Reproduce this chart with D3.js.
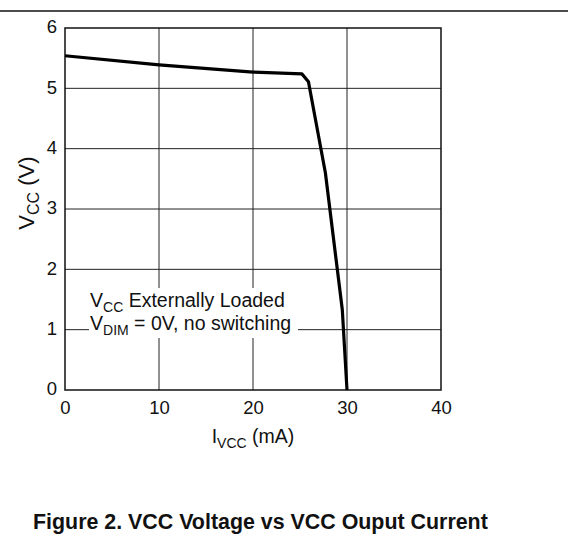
<!DOCTYPE html>
<html>
<head>
<meta charset="utf-8">
<script src="https://cdn.jsdelivr.net/npm/d3@7"></script>
<style>
  body { margin: 0; background: #fff; }
  svg { display: block; font-family: "Liberation Sans", Arial, sans-serif; }
</style>
</head>
<body>
<svg width="568" height="537"></svg>
<script>
"use strict";

// curve: I_VCC (mA) vs V_CC (V)
const currentMA = [0, 10, 20, 25.2, 25.9, 27.7, 29.5, 30.0];
const voltageV = [5.54, 5.39, 5.27, 5.24, 5.11, 3.6, 1.33, 0];
const xTicks = [0, 10, 20, 30, 40];
const yTicks = [0, 1, 2, 3, 4, 5, 6];
const title = "Figure 2. VCC Voltage vs VCC Ouput Current";

const svg = d3.select("svg");
const width = +svg.attr("width");

const plotLeft = 65, plotRight = 441, plotTop = 28, plotBottom = 390;
const labelSize = 19.5, subSize = 14;

const x = d3.scaleLinear().domain([0, 40]).range([plotLeft, plotRight]);
const y = d3.scaleLinear().domain([0, 6]).range([plotBottom, plotTop]);

// rule across the top
svg.append("line")
  .attr("x1", 0).attr("x2", width)
  .attr("y1", 11).attr("y2", 11)
  .attr("stroke", "#111").attr("stroke-width", 1.5);

// grid
const grid = svg.append("g").attr("stroke", "#222").attr("stroke-width", 1);
grid.selectAll(".vx")
  .data(xTicks.slice(1, -1))
  .enter().append("line")
  .attr("x1", d => x(d)).attr("x2", d => x(d))
  .attr("y1", plotTop).attr("y2", plotBottom);
grid.selectAll(".hy")
  .data(yTicks.slice(1, -1))
  .enter().append("line")
  .attr("x1", plotLeft).attr("x2", plotRight)
  .attr("y1", d => y(d)).attr("y2", d => y(d));

// axes (labels only, frame drawn separately)
const xAxis = svg.append("g")
  .attr("transform", `translate(0,${plotBottom})`)
  .call(d3.axisBottom(x).tickValues(xTicks).tickFormat(d3.format("d"))
    .tickSize(0).tickPadding(11));
const yAxis = svg.append("g")
  .attr("transform", `translate(${plotLeft},-1)`)
  .call(d3.axisLeft(y).tickValues(yTicks).tickFormat(d3.format("d"))
    .tickSize(0).tickPadding(8));
[xAxis, yAxis].forEach(g => {
  g.select(".domain").remove();
  g.selectAll("text")
    .attr("font-size", 18.5)
    .attr("font-family", "Liberation Sans, Arial, sans-serif")
    .attr("fill", "#111");
});

// annotation box (white background breaks the grid lines)
const note = svg.append("g");
note.append("rect")
  .attr("x", 89).attr("y", 288)
  .attr("width", 209).attr("height", 50)
  .attr("fill", "#fff");
const t1 = note.append("text")
  .attr("x", 90).attr("y", 307)
  .attr("font-size", labelSize).attr("fill", "#111");
t1.append("tspan").text("V");
t1.append("tspan").attr("dy", 5).attr("font-size", subSize).text("CC");
t1.append("tspan").attr("dy", -5).text(" Externally Loaded");
const t2 = note.append("text")
  .attr("x", 90).attr("y", 330)
  .attr("font-size", labelSize).attr("fill", "#111");
t2.append("tspan").text("V");
t2.append("tspan").attr("dy", 5).attr("font-size", subSize).text("DIM");
t2.append("tspan").attr("dy", -5).text(" = 0V, no switching");

// frame
svg.append("rect")
  .attr("x", plotLeft).attr("y", plotTop)
  .attr("width", plotRight - plotLeft).attr("height", plotBottom - plotTop)
  .attr("fill", "none").attr("stroke", "#111").attr("stroke-width", 1.5);

// curve
const line = d3.line()
  .x((d, i) => x(currentMA[i]))
  .y(d => y(d));
svg.append("path")
  .datum(voltageV)
  .attr("d", line)
  .attr("fill", "none")
  .attr("stroke", "#000")
  .attr("stroke-width", 3.2)
  .attr("stroke-linejoin", "round");

// axis titles
const xt = svg.append("text")
  .attr("x", x(20)).attr("y", 443)
  .attr("text-anchor", "middle")
  .attr("font-size", labelSize).attr("fill", "#111");
xt.append("tspan").text("I");
xt.append("tspan").attr("dy", 5).attr("font-size", subSize).text("VCC");
xt.append("tspan").attr("dy", -5).text(" (mA)");

const yt = svg.append("text")
  .attr("transform", "translate(34,193) rotate(-90)")
  .attr("text-anchor", "middle")
  .attr("font-size", 22).attr("fill", "#111");
yt.append("tspan").text("V");
yt.append("tspan").attr("dy", 5).attr("font-size", 16).text("CC");
yt.append("tspan").attr("dy", -5).text(" (V)");

// caption
svg.append("text")
  .attr("x", 33).attr("y", 529)
  .attr("font-size", 21.4)
  .attr("font-weight", "bold")
  .attr("fill", "#111")
  .text(title);
</script>
</body>
</html>
